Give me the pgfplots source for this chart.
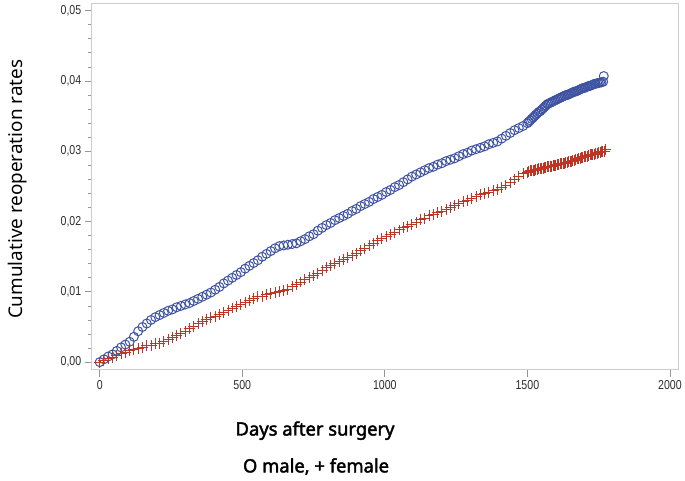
\documentclass[border=0pt]{standalone}
\usepackage{pgfplots}
\pgfplotsset{compat=1.18}
\usepackage{fontspec}
\setmainfont{Noto Sans}
\newfontfamily\boldlab[FakeBold=2.2]{Noto Sans}
\newfontfamily\tickfont[FakeStretch=0.82]{Liberation Sans}
\definecolor{maleblue}{RGB}{62,82,162}
\definecolor{femred}{RGB}{192,52,36}
\definecolor{spine}{RGB}{205,205,205}
\definecolor{tickc}{RGB}{150,150,150}
\definecolor{labc}{RGB}{45,45,45}
\begin{document}
\begin{tikzpicture}
\begin{axis}[
  at={(0,0)}, anchor=south west,
  scale only axis, width=588bp, height=368bp,
  xmin=-28, xmax=2028, ymin=-0.0011, ymax=0.0511,
  axis line style={spine, line width=0.8pt},
  xtick={0,500,1000,1500,2000},
  ytick={0,0.01,0.02,0.03,0.04,0.05},
  minor ytick={0.002,0.004,0.006,0.008,0.012,0.014,0.016,0.018,0.022,0.024,0.026,0.028,0.032,0.034,0.036,0.038,0.042,0.044,0.046,0.048},
  tick align=outside, tick pos=left,
  major tick length=7bp, minor tick length=4bp,
  tick style={tickc, line width=0.8pt},
  /pgf/number format/assume math mode=true,
  yticklabel style={/pgf/number format/.cd, fixed, fixed zerofill, precision=2, use comma},
  scaled y ticks=false,
  ticklabel style={font=\tickfont\fontsize{13}{15}\selectfont, text=labc},
  xticklabel style={/pgf/number format/1000 sep={}},
  clip=false,
]
\addplot[only marks, mark=o, mark size=4.5bp, maleblue, mark options={line width=1pt}] coordinates {
(0,0) (15,0.0004) (30,0.0008) (45,0.0011) (60,0.0016) (75,0.0021) (90,0.0025) (105,0.0029)
(120,0.0036) (135,0.0044) (150,0.0050) (165,0.0055) (180,0.0060) (195,0.0064) (210,0.0067)
(225,0.0070) (240,0.0073) (255,0.0075) (270,0.0078) (285,0.0080) (300,0.0082) (315,0.0084)
(330,0.0087) (345,0.0090) (360,0.0093) (375,0.0096) (390,0.0099) (405,0.0103) (420,0.0107)
(435,0.0112) (450,0.0116) (465,0.0120) (480,0.0124) (495,0.0128) (510,0.0133) (525,0.0137)
(540,0.0141) (555,0.0145) (570,0.0150) (585,0.0154) (600,0.0158) (615,0.0162) (630,0.0165)
(645,0.0166) (660,0.0167) (675,0.0168) (690,0.0169) (705,0.0172) (720,0.0175) (735,0.0179)
(750,0.0182) (765,0.0187) (780,0.0191) (795,0.0195) (810,0.0198) (825,0.0202) (840,0.0205)
(855,0.0208) (870,0.0211) (885,0.0215) (900,0.0218) (915,0.0222) (930,0.0225) (945,0.0228)
(960,0.0232) (975,0.0235) (990,0.0238) (1005,0.0242) (1020,0.0245) (1035,0.0249) (1050,0.0252)
(1065,0.0256) (1080,0.0260) (1095,0.0264) (1110,0.0267) (1125,0.0270) (1140,0.0273) (1155,0.0276)
(1170,0.0278) (1185,0.0281) (1200,0.0283) (1215,0.0286) (1230,0.0288) (1245,0.0290) (1260,0.0293)
(1275,0.0296) (1290,0.0298) (1305,0.0301) (1320,0.0303) (1335,0.0305) (1350,0.0307) (1365,0.0310)
(1380,0.0312) (1395,0.0314) (1410,0.0318) (1425,0.0322) (1440,0.0326) (1455,0.0330) (1470,0.0333)
(1485,0.0336) (1500,0.0340) (1505,0.0342) (1510,0.0344) (1515,0.0346) (1520,0.0348) (1525,0.0350)
(1530,0.0352) (1535,0.0354) (1540,0.0356) (1545,0.0357) (1550,0.0359) (1555,0.0361) (1560,0.0363)
(1565,0.0365) (1570,0.0367) (1575,0.0368) (1580,0.0369) (1585,0.0370) (1590,0.0371) (1595,0.0372)
(1600,0.0373) (1605,0.0374) (1610,0.0375) (1615,0.0376) (1620,0.0377) (1625,0.0378) (1630,0.0379)
(1635,0.0380) (1640,0.0380) (1645,0.0381) (1650,0.0382) (1655,0.0383) (1660,0.0384) (1665,0.0385)
(1670,0.0385) (1675,0.0386) (1680,0.0387) (1685,0.0388) (1690,0.0389) (1695,0.0390) (1700,0.0390)
(1705,0.0391) (1710,0.0392) (1715,0.0393) (1720,0.0393) (1725,0.0394) (1730,0.0395) (1735,0.0396)
(1740,0.0396) (1745,0.0397) (1750,0.0397) (1755,0.0398) (1760,0.0398) (1766,0.0399) (1768,0.0407)
};
\addplot[only marks, mark=+, mark size=5.5bp, femred, mark options={line width=1pt}] coordinates {
(0,0) (15,0.0002) (30,0.0005) (45,0.0007) (60,0.0009) (75,0.0012) (90,0.0014) (105,0.0016)
(120,0.0018) (135,0.0019) (150,0.0021) (165,0.0023) (180,0.0024) (195,0.0026) (210,0.0027)
(225,0.0029) (240,0.0032) (255,0.0035) (270,0.0038) (285,0.0041) (300,0.0044) (315,0.0048)
(330,0.0051) (345,0.0055) (360,0.0058) (375,0.0060) (390,0.0063) (405,0.0065) (420,0.0068)
(435,0.0071) (450,0.0074) (465,0.0077) (480,0.0079) (495,0.0082) (510,0.0085) (525,0.0088)
(540,0.0090) (555,0.0093) (570,0.0094) (585,0.0096) (600,0.0097) (615,0.0099) (630,0.0100)
(645,0.0102) (660,0.0104) (675,0.0108) (690,0.0111) (705,0.0114) (720,0.0117) (735,0.0120)
(750,0.0123) (765,0.0126) (780,0.0130) (795,0.0134) (810,0.0137) (825,0.0140) (840,0.0143)
(855,0.0146) (870,0.0149) (885,0.0152) (900,0.0155) (915,0.0159) (930,0.0162) (945,0.0166)
(960,0.0169) (975,0.0173) (990,0.0176) (1005,0.0179) (1020,0.0182) (1035,0.0185) (1050,0.0188)
(1065,0.0191) (1080,0.0193) (1095,0.0196) (1110,0.0199) (1125,0.0203) (1140,0.0205) (1155,0.0208)
(1170,0.0210) (1185,0.0213) (1200,0.0215) (1215,0.0217) (1230,0.0220) (1245,0.0223) (1260,0.0225)
(1275,0.0228) (1290,0.0230) (1305,0.0233) (1320,0.0235) (1335,0.0238) (1350,0.0240) (1365,0.0242)
(1380,0.0244) (1395,0.0246) (1410,0.0248) (1425,0.0252) (1440,0.0256) (1455,0.0260) (1470,0.0264)
(1485,0.0268) (1500,0.0270) (1505,0.0271) (1510,0.0272) (1515,0.0272) (1520,0.0273) (1525,0.0273)
(1530,0.0274) (1535,0.0274) (1540,0.0275) (1545,0.0275) (1550,0.0276) (1555,0.0276) (1560,0.0277)
(1565,0.0277) (1570,0.0278) (1575,0.0278) (1580,0.0279) (1585,0.0279) (1590,0.0280) (1595,0.0280)
(1600,0.0280) (1605,0.0281) (1610,0.0281) (1615,0.0282) (1620,0.0282) (1625,0.0283) (1630,0.0283)
(1635,0.0284) (1640,0.0284) (1645,0.0285) (1650,0.0285) (1655,0.0286) (1660,0.0287) (1665,0.0287)
(1670,0.0288) (1675,0.0289) (1680,0.0290) (1685,0.0290) (1690,0.0291) (1695,0.0291) (1700,0.0292)
(1705,0.0292) (1710,0.0293) (1715,0.0294) (1720,0.0295) (1725,0.0295) (1730,0.0296) (1735,0.0296)
(1740,0.0297) (1745,0.0297) (1750,0.0298) (1755,0.0298) (1760,0.0299) (1765,0.0299) (1770,0.0300)
(1773,0.0302)
};
\end{axis}
\node[rotate=90, font=\fontsize{19}{22}\selectfont, text=black] at (-74bp,181bp) {Cumulative reoperation rates};
\node[font=\boldlab\fontsize{18.5}{22}\selectfont, text=black] at (224bp,-61bp) {Days after surgery};
\node[font=\boldlab\fontsize{18.5}{22}\selectfont, text=black] at (225bp,-97bp) {O male, + female};
\useasboundingbox (-92bp,-111bp) rectangle (593bp,371bp);
\end{tikzpicture}
\end{document}
